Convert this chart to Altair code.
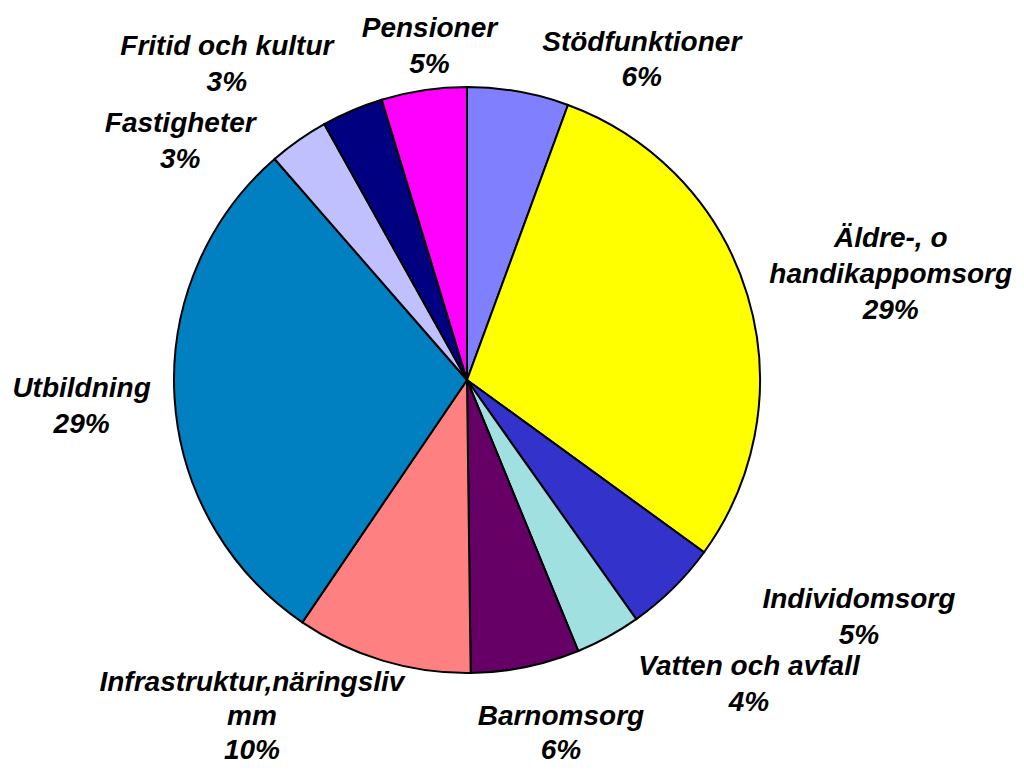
import altair as alt
import pandas as pd
import math

# ---- data ----
categories = ["Stödfunktioner", "Äldre-, o handikappomsorg", "Individomsorg",
              "Vatten och avfall", "Barnomsorg", "Infrastruktur,näringsliv mm",
              "Utbildning", "Fastigheter", "Fritid och kultur", "Pensioner"]
values = [5.6, 29.4, 5.2, 3.6, 6.0, 9.7, 29.1, 3.3, 3.4, 4.7]
label_lines = [["Stödfunktioner"], ["Äldre-, o", "handikappomsorg"], ["Individomsorg"],
               ["Vatten och avfall"], ["Barnomsorg"], ["Infrastruktur,näringsliv", "mm"],
               ["Utbildning"], ["Fastigheter"], ["Fritid och kultur"], ["Pensioner"]]
colors = ["#8080FF", "#FFFF00", "#3333CC", "#A0E0E0", "#660066",
          "#FF8080", "#0080C0", "#C0C0FF", "#000080", "#FF00FF"]

# label offsets and line heights (style) relative to the slice mid-angle point
label_style = {
    "Stödfunktioner": (117, -4, 35),
    "Äldre-, o handikappomsorg": (108, -37, 36),
    "Individomsorg": (160, -7, 36),
    "Vatten och avfall": (123, 6, 36),
    "Barnomsorg": (28, 22, 34),
    "Infrastruktur,näringsliv mm": (-120, -5, 34),
    "Utbildning": (-56, -3, 36),
    "Fastigheter": (-97, 22, 36),
    "Fritid och kultur": (-111, -21, 36),
    "Pensioner": (11, -17, 36),
}

df = pd.DataFrame({
    "cat": categories,
    "value": values,
    "order": list(range(len(categories))),
    "label": [lines + [f"{round(v)}%"] for lines, v in zip(label_lines, values)],
})

CX, CY = 459, 372
R = 293
LABEL_R = 330

theta_scale = alt.Scale(domain=[0, 100], range=[0, 2 * math.pi])

base = alt.Chart(df).transform_window(
    v1="sum(value)", sort=[alt.SortField("order")], frame=[None, 0]
).transform_calculate(
    v0="datum.v1 - datum.value",
    mid="datum.v1 - datum.value / 2",
)

pie = base.mark_arc(outerRadius=R, stroke="black", strokeWidth=2).encode(
    theta=alt.Theta("v0:Q", scale=theta_scale, stack=None),
    theta2="v1:Q",
    color=alt.Color("cat:N", scale=alt.Scale(domain=categories, range=colors), legend=None),
    x=alt.value(CX),
    y=alt.value(CY),
)

layers = [pie]
for cat in categories:
    dx, dy, lh = label_style[cat]
    t = base.transform_filter(alt.datum.cat == cat).mark_text(
        font="Liberation Sans", fontSize=28, fontWeight="bold", fontStyle="italic",
        align="center", baseline="alphabetic", lineHeight=lh,
        dx=dx, dy=dy, radius=LABEL_R, color="black",
    ).encode(
        theta=alt.Theta("mid:Q", scale=theta_scale, stack=None),
        text="label",
        x=alt.value(CX),
        y=alt.value(CY),
    )
    layers.append(t)

chart = alt.layer(*layers).properties(
    width=1008, height=758, padding=0,
    autosize=alt.AutoSizeParams(type="none"),
).configure_view(stroke=None)

chart.save("out.html", embed_options={"renderer": "svg", "actions": False})
